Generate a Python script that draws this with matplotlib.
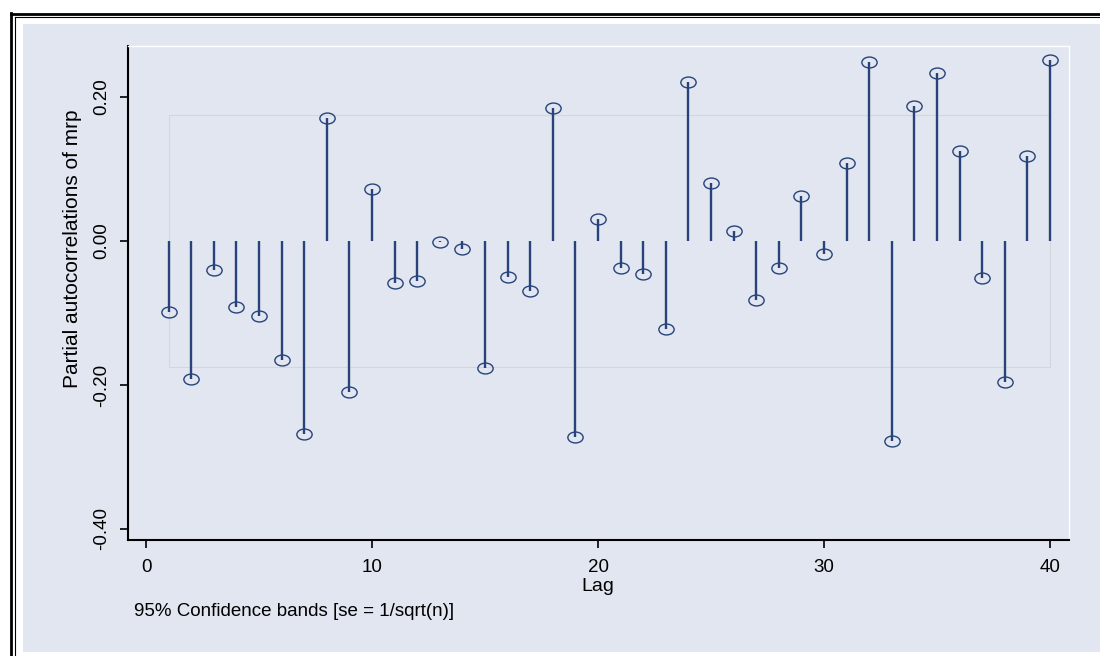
import matplotlib
matplotlib.use("Agg")
import matplotlib.pyplot as plt
from matplotlib.path import Path
from matplotlib.patches import Rectangle
from matplotlib.lines import Line2D
from matplotlib.transforms import Affine2D

# partial autocorrelations, lags 1..40
lags = list(range(1, 41))
pac = [
    -0.099, -0.192, -0.040, -0.092, -0.104, -0.165, -0.268, 0.171, -0.210, 0.072,
    -0.058, -0.056, -0.002, -0.011, -0.176, -0.050, -0.069, 0.185, -0.272, 0.031,
    -0.038, -0.046, -0.122, 0.221, 0.081, 0.014, -0.082, -0.038, 0.063, -0.018,
    0.108, 0.249, -0.278, 0.188, 0.233, 0.125, -0.052, -0.196, 0.118, 0.251,
]
band = 0.175  # 95% confidence band, se = 1/sqrt(n)
xticks = [0, 10, 20, 30, 40]
yticks = [-0.40, -0.20, 0.00, 0.20]

BG = "#E1E6F0"
NAVY = "#27437A"
W, H = 1100, 656

plt.rcParams["font.family"] = ["Liberation Sans", "DejaVu Sans"]

fig = plt.figure(figsize=(W / 100, H / 100), dpi=100, facecolor="white")

# light background panel and double frame (figure pixel coords)
fig.patches.append(Rectangle((23 / W, 1 - 652 / H), 1, (652 - 24) / H,
                             transform=fig.transFigure, facecolor=BG,
                             edgecolor="none", zorder=-5))
for x, lw in [(11.4, 2.0), (15.2, 0.8)]:
    fig.add_artist(Line2D([x / W, x / W], [0, 1 - (x + 1.5) / H], color="black",
                          lw=lw, transform=fig.transFigure, zorder=-4))
for y, lw in [(13.6, 2.0), (17.2, 0.8)]:
    x0 = 11.4 if lw > 1 else 15.2
    fig.add_artist(Line2D([x0 / W, 1], [1 - y / H, 1 - y / H], color="black",
                          lw=lw, transform=fig.transFigure, zorder=-4))

ax = fig.add_axes([128 / W, 1 - 540 / H, (1069 - 128) / W, (540 - 46) / H])
ax.set_facecolor(BG)

# confidence band outline
ax.add_patch(Rectangle((1, -band), 39, 2 * band, facecolor="none",
                       edgecolor="#D3D7DD", lw=0.8, zorder=1))

# stems and hollow ellipse markers
ax.vlines(lags, 0, pac, color=NAVY, lw=1.7, zorder=2)
ell = Path.unit_circle().transformed(Affine2D().scale(1.4, 1.0))
ax.plot(lags, pac, linestyle="none", marker=ell, markersize=11,
        markerfacecolor="none", markeredgecolor=NAVY, markeredgewidth=1.0, zorder=3)

ax.set_xlim(-0.8, 40.84)
ax.set_ylim(-0.4153, 0.2708)

ax.set_xticks(xticks)
ax.set_xticklabels([str(t) for t in xticks])
ax.set_yticks(yticks)
ax.set_yticklabels([f"{t:.2f}" for t in yticks], rotation=90, va="center")

ax.tick_params(axis="both", direction="out", length=6, width=1.2, colors="black",
               labelsize=13.5)
ax.tick_params(axis="x", pad=8)
ax.tick_params(axis="y", pad=7)

for s in ["left", "bottom"]:
    ax.spines[s].set_color("black")
    ax.spines[s].set_linewidth(1.5)
for s in ["top", "right"]:
    ax.spines[s].set_color("white")
    ax.spines[s].set_linewidth(1.0)

ax.set_ylabel("Partial autocorrelations of mrp", fontsize=15)
ax.yaxis.set_label_coords(-0.049, 0.59)
ax.set_xlabel("Lag", fontsize=14, va="center")
ax.xaxis.set_label_coords(0.4995, -0.095)

fig.text(134 / W, 1 - 612 / H, "95% Confidence bands [se = 1/sqrt(n)]",
         fontsize=13.5, ha="left", va="center")

fig.savefig("out.png", dpi=100, facecolor=fig.get_facecolor())
